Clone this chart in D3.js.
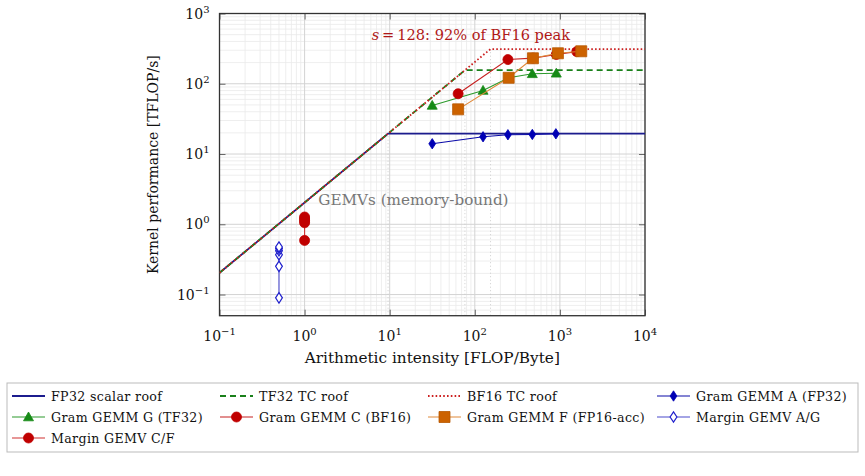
<!DOCTYPE html>
<html>
<head>
<meta charset="utf-8">
<script src="https://cdn.jsdelivr.net/npm/d3@7"></script>
<style>
  body { margin: 0; background: #fff; }
  text { font-family: "DejaVu Serif", serif; }
</style>
</head>
<body>
<div id="graf"></div>
<script>
// Datos
const bandwidth = 2.039          // TB/s
const roofNames = ["FP32 scalar roof", "TF32 TC roof", "BF16 TC roof"]
const roofPeaks = [19.5, 156, 312]

const gramA_x = [31.6, 125, 245, 474, 897]
const gramA_y = [14.0, 17.6, 18.8, 19.0, 19.4]
const gramG_x = [31.6, 125, 250, 474, 907]
const gramG_y = [49.2, 80.4, 121.7, 138.6, 141]
const gramC_x = [63.7, 245, 482, 907, 1580]
const gramC_y = [72.1, 221, 232, 261, 287]
const gramF_x = [63.7, 250, 482, 948, 1782]
const gramF_y = [43.2, 121.7, 230.6, 271.6, 290]
const gemvAG_x = [0.5, 0.5, 0.5, 0.5, 0.5, 0.5]
const gemvAG_y = [0.0898, 0.252, 0.369, 0.421, 0.454, 0.475]
const gemvCF_x = [1, 1, 1, 1, 1]
const gemvCF_y = [0.59, 1.05, 1.12, 1.19, 1.27]

const xTicks = [-1, 0, 1, 2, 3, 4]
const yTicks = [-1, 0, 1, 2, 3]

// Dimensiones
const anchoTotal = 865
const altoTotal = 476
const margins = { top: 13.5, left: 219.5, right: 220, bottom: 160.3 }
const ancho = anchoTotal - margins.left - margins.right
const alto = altoTotal - margins.top - margins.bottom

const svg = d3.select("#graf").append("svg")
    .attr("width", anchoTotal)
    .attr("height", altoTotal)

const g = svg.append("g")
    .attr("transform", `translate(${margins.left}, ${margins.top})`)

// Escaladores
const x = d3.scaleLog().domain([0.1, 1e4]).range([0, ancho])
const y = d3.scaleLog().domain([0.05, 1000]).range([alto, 0])

g.append("clipPath").attr("id", "clip")
  .append("rect").attr("width", ancho).attr("height", alto)

// Rejilla
const minorX = [], minorY = []
for (let e = -1; e < 4; e++) for (let k = 2; k < 10; k++) minorX.push(k * 10 ** e)
for (let e = -2; e < 3; e++) for (let k = 2; k < 10; k++) { const v = k * 10 ** e; if (v >= 0.05) minorY.push(v) }
const majX = xTicks.map(e => 10 ** e), majY = yTicks.map(e => 10 ** e)

const grid = g.append("g")
grid.selectAll(".gxm").data(minorX).join("line")
    .attr("x1", d => x(d)).attr("x2", d => x(d)).attr("y1", 0).attr("y2", alto)
    .attr("stroke", "#eaeaea").attr("stroke-width", 0.8)
grid.selectAll(".gym").data(minorY).join("line").attr("class", "gym")
    .attr("y1", d => y(d)).attr("y2", d => y(d)).attr("x1", 0).attr("x2", ancho)
    .attr("stroke", "#eaeaea").attr("stroke-width", 0.8)
grid.selectAll(".gxM").data(majX).join("line").attr("class", "gxM")
    .attr("x1", d => x(d)).attr("x2", d => x(d)).attr("y1", 0).attr("y2", alto)
    .attr("stroke", "#d3d3d3").attr("stroke-width", 1)
grid.selectAll(".gyM").data(majY).join("line").attr("class", "gyM")
    .attr("y1", d => y(d)).attr("y2", d => y(d)).attr("x1", 0).attr("x2", ancho)
    .attr("stroke", "#d3d3d3").attr("stroke-width", 1)

// líneas verticales en los puntos de quiebre
const ridges = roofPeaks.map(p => p / bandwidth)
g.append("g").selectAll("line").data(ridges).join("line")
    .attr("x1", d => x(d)).attr("x2", d => x(d)).attr("y1", alto).attr("y2", d => y(d * bandwidth))
    .attr("stroke", "#c8c8c8").attr("stroke-width", 0.9).attr("stroke-dasharray", "1,2.5")

// Ejes (ticks hacia adentro)
const axB = g.append("g").attr("transform", `translate(0,${alto})`)
axB.call(d3.axisBottom(x).tickValues(minorX).tickSize(-3.5).tickFormat(""))
axB.call(d3.axisBottom(x).tickValues(majX).tickSize(-6).tickFormat(""))
const axT = g.append("g")
axT.call(d3.axisTop(x).tickValues(minorX).tickSize(-3.5).tickFormat(""))
axT.call(d3.axisTop(x).tickValues(majX).tickSize(-6).tickFormat(""))
const axL = g.append("g")
axL.call(d3.axisLeft(y).tickValues(minorY).tickSize(-3.5).tickFormat(""))
axL.call(d3.axisLeft(y).tickValues(majY).tickSize(-6).tickFormat(""))
const axR = g.append("g").attr("transform", `translate(${ancho},0)`)
axR.call(d3.axisRight(y).tickValues(minorY).tickSize(-3.5).tickFormat(""))
axR.call(d3.axisRight(y).tickValues(majY).tickSize(-6).tickFormat(""))
g.selectAll(".domain").remove()
g.selectAll(".tick line").attr("stroke", "#444").attr("stroke-width", 0.8)

g.append("rect").attr("width", ancho).attr("height", alto)
    .attr("fill", "none").attr("stroke", "#333").attr("stroke-width", 1.3)

// etiquetas de ticks
const lblX = g.append("g").selectAll("text").data(xTicks).join("text")
    .attr("x", d => x(10 ** d)).attr("y", alto + 25)
    .attr("text-anchor", "middle").attr("font-size", 14).attr("fill", "#111")
lblX.append("tspan").text("10")
lblX.append("tspan").attr("dy", -6).attr("font-size", 10).text(d => d < 0 ? "\u2212" + (-d) : d)

const lblY = g.append("g").selectAll("text").data(yTicks).join("text")
    .attr("x", -10).attr("y", d => y(10 ** d) + 5)
    .attr("text-anchor", "end").attr("font-size", 14).attr("fill", "#111")
lblY.append("tspan").text("10")
lblY.append("tspan").attr("dy", -6).attr("font-size", 10).text(d => d < 0 ? "\u2212" + (-d) : d)

// títulos de ejes
g.append("text").attr("x", ancho / 2).attr("y", alto + 47)
    .attr("text-anchor", "middle").attr("font-size", 15.3).attr("fill", "#111")
    .text("Arithmetic intensity [FLOP/Byte]")
g.append("text")
    .attr("transform", `translate(${-62},${alto / 2}) rotate(-90)`)
    .attr("text-anchor", "middle").attr("font-size", 14).attr("fill", "#111")
    .text("Kernel performance [TFLOP/s]")

// Techos
const plot = g.append("g").attr("clip-path", "url(#clip)")
const roofStyles = [
    { color: "#1c1c8e", dash: null },
    { color: "#1a801a", dash: "6,4" },
    { color: "#cc2020", dash: "1.6,2.2" },
]
const lineGen = d3.line().x(d => x(d[0])).y(d => y(d[1]))
roofPeaks.forEach((p, i) => {
    const pts = [[0.1, 0.1 * bandwidth], [p / bandwidth, p], [1e4, p]]
    plot.append("path").datum(pts).attr("d", lineGen)
        .attr("fill", "none").attr("stroke", roofStyles[i].color).attr("stroke-width", 1.8)
        .attr("stroke-dasharray", roofStyles[i].dash)
})

// Series
const markerPath = {
    diamond: "M0,-5.2 L3.4,0 L0,5.2 L-3.4,0 Z",
    triangle: "M0,-5 L5,3.8 L-5,3.8 Z",
    square: "M-5.5,-5.5 H5.5 V5.5 H-5.5 Z",
}
const series = [
    { name: "Gram GEMM A (FP32)", xs: gramA_x, ys: gramA_y, line: "#0a0aa8", mk: "diamond", fill: "#0000b4", stroke: "#0000b4" },
    { name: "Gram GEMM G (TF32)", xs: gramG_x, ys: gramG_y, line: "#2c9a2c", mk: "triangle", fill: "#168a16", stroke: "#168a16" },
    { name: "Gram GEMM C (BF16)", xs: gramC_x, ys: gramC_y, line: "#c62020", mk: "circle", fill: "#c00000", stroke: "#c00000" },
    { name: "Gram GEMM F (FP16-acc)", xs: gramF_x, ys: gramF_y, line: "#e0893a", mk: "square", fill: "#cc6200", stroke: "#b85800" },
    { name: "Margin GEMV A/G", xs: gemvAG_x, ys: gemvAG_y, line: "#4a4acc", mk: "diamond", fill: "#fff", stroke: "#2020cc" },
    { name: "Margin GEMV C/F", xs: gemvCF_x, ys: gemvCF_y, line: "#d03030", mk: "circle", fill: "#c00000", stroke: "#c00000" },
]

const drawMarker = (sel, s) => {
    if (s.mk === "circle") {
        sel.append("circle").attr("r", 5).attr("fill", s.fill).attr("stroke", s.stroke).attr("stroke-width", 0.8)
    } else {
        sel.append("path").attr("d", markerPath[s.mk]).attr("fill", s.fill)
            .attr("stroke", s.stroke).attr("stroke-width", s.fill === "#fff" ? 1.2 : 0.8)
    }
}

series.forEach(s => {
    const pts = s.xs.map((v, i) => [v, s.ys[i]])
    plot.append("path").datum(pts).attr("d", lineGen)
        .attr("fill", "none").attr("stroke", s.line).attr("stroke-width", 1.1)
    plot.append("g").selectAll("g").data(pts).join("g")
        .attr("transform", d => `translate(${x(d[0])},${y(d[1])})`)
        .each(function () { drawMarker(d3.select(this), s) })
})

// Anotaciones
const ann = g.append("text").attr("x", x(90)).attr("y", y(480))
    .attr("text-anchor", "middle").attr("dominant-baseline", "middle")
    .attr("font-size", 14.6).attr("fill", "#b01818")
ann.append("tspan").attr("font-style", "italic").text("s")
ann.append("tspan").text("\u2009=\u2009128: 92% of BF16 peak")

g.append("text").attr("x", x(19)).attr("y", y(2.18))
    .attr("text-anchor", "middle").attr("dominant-baseline", "middle")
    .attr("font-size", 15.2).attr("fill", "#777")
    .text("GEMVs (memory-bound)")

// Leyenda
const legend = svg.append("g")
legend.append("rect").attr("x", 7).attr("y", 383).attr("width", 851).attr("height", 69)
    .attr("fill", "#fff").attr("stroke", "#bbb").attr("stroke-width", 1)

const entries = [
    ...roofNames.map((n, i) => ({ name: n, roof: roofStyles[i] })),
    series[0], series[1], series[2], series[3], series[4], series[5],
]
const colX = [12, 220, 428, 657]
const rowY = [396, 417, 438]
entries.forEach((e, i) => {
    const cx = colX[i % 4], cy = rowY[Math.floor(i / 4)]
    const it = legend.append("g").attr("transform", `translate(${cx},${cy})`)
    if (e.roof) {
        it.append("line").attr("x1", 0).attr("x2", 33)
            .attr("stroke", e.roof.color).attr("stroke-width", 1.8).attr("stroke-dasharray", e.roof.dash)
    } else {
        it.append("line").attr("x1", 0).attr("x2", 33).attr("stroke", e.line).attr("stroke-width", 1.1)
        drawMarker(it.append("g").attr("transform", "translate(16.5,0)"), e)
    }
    it.append("text").attr("x", 39).attr("y", 4.5).attr("font-size", 12.6).attr("fill", "#111")
        .attr("letter-spacing", 0.35)
        .text(e.name)
})
</script>
</body>
</html>
